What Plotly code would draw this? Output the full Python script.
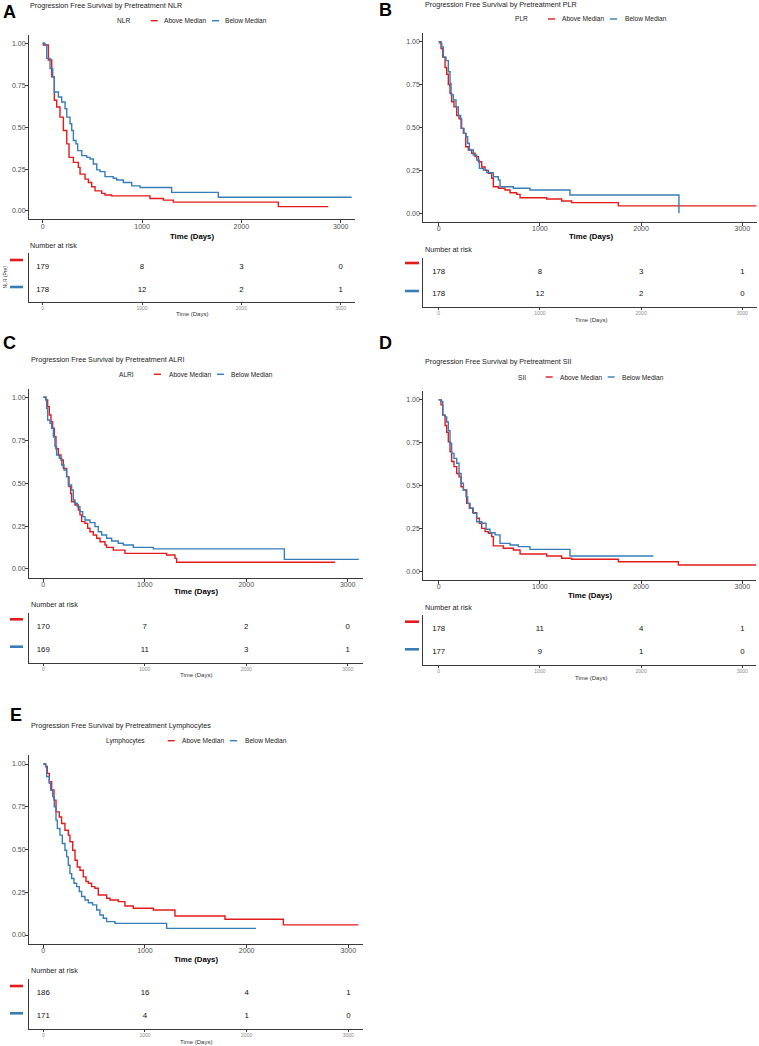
import plotly.graph_objects as go

W, H = 759, 1046
RED = "#E41A1C"
BLUE = "#377EB8"
FONT = "Liberation Sans, Arial, Helvetica, sans-serif"

# ---------------- data ----------------
group_labels = ["Above Median", "Below Median"]
risk_times = [0, 1000, 2000, 3000]
time_ticks = [0, 1000, 2000, 3000]
surv_ticks = [0.0, 0.25, 0.5, 0.75, 1.0]

nlr_above_t = [0, 7, 57, 91, 117, 141, 174, 208, 242, 265, 309, 359, 376, 426, 460, 493, 527, 594, 627, 694, 1080, 1215, 1315, 2372, 2875]
nlr_above_s = [1.0, 0.99, 0.90, 0.80, 0.66, 0.62, 0.56, 0.48, 0.40, 0.32, 0.29, 0.26, 0.22, 0.19, 0.17, 0.145, 0.12, 0.105, 0.095, 0.09, 0.075, 0.065, 0.053, 0.026, 0.026]
nlr_below_t = [0, 23, 40, 74, 101, 117, 158, 191, 225, 242, 275, 292, 309, 335, 352, 393, 443, 476, 510, 544, 577, 627, 711, 745, 812, 896, 980, 1298, 1768, 3110]
nlr_below_s = [1.0, 0.99, 0.91, 0.85, 0.80, 0.71, 0.68, 0.65, 0.61, 0.56, 0.52, 0.48, 0.42, 0.40, 0.36, 0.33, 0.32, 0.31, 0.28, 0.245, 0.235, 0.205, 0.195, 0.185, 0.17, 0.15, 0.14, 0.111, 0.082, 0.082]
nlr_risk_above = [179, 8, 3, 0]
nlr_risk_below = [178, 12, 2, 1]

plr_above_t = [0, 23, 40, 63, 79, 95, 112, 128, 151, 178, 201, 221, 244, 267, 293, 326, 359, 392, 425, 458, 491, 524, 540, 590, 655, 705, 771, 804, 1067, 1215, 1314, 1775, 3140]
plr_above_s = [1.0, 0.96, 0.91, 0.85, 0.81, 0.75, 0.70, 0.65, 0.62, 0.57, 0.55, 0.495, 0.466, 0.388, 0.369, 0.35, 0.33, 0.30, 0.27, 0.25, 0.233, 0.204, 0.155, 0.146, 0.136, 0.12, 0.11, 0.091, 0.083, 0.072, 0.062, 0.043, 0.043]
plr_below_t = [0, 13, 30, 46, 72, 95, 112, 122, 145, 171, 194, 217, 227, 250, 270, 286, 303, 342, 375, 402, 441, 474, 540, 589, 606, 738, 902, 1297, 2374]
plr_below_s = [1.0, 0.99, 0.97, 0.91, 0.89, 0.825, 0.757, 0.69, 0.66, 0.62, 0.57, 0.55, 0.495, 0.466, 0.447, 0.408, 0.369, 0.34, 0.31, 0.262, 0.252, 0.237, 0.213, 0.194, 0.155, 0.146, 0.136, 0.107, 0.0]
plr_risk_above = [178, 8, 3, 1]
plr_risk_below = [178, 12, 2, 0]

alri_above_t = [0, 26, 43, 59, 76, 92, 108, 125, 148, 174, 197, 230, 253, 269, 279, 312, 345, 361, 378, 411, 437, 460, 493, 526, 559, 608, 624, 690, 805, 1216, 1298, 1314, 2875]
alri_above_s = [1.0, 0.985, 0.946, 0.897, 0.858, 0.82, 0.77, 0.70, 0.664, 0.635, 0.586, 0.538, 0.48, 0.44, 0.392, 0.373, 0.344, 0.315, 0.276, 0.266, 0.237, 0.217, 0.198, 0.179, 0.159, 0.14, 0.126, 0.11, 0.091, 0.082, 0.062, 0.039, 0.039]
alri_below_t = [0, 23, 33, 43, 66, 82, 99, 115, 131, 158, 181, 204, 230, 246, 279, 296, 312, 335, 361, 388, 411, 460, 509, 542, 575, 624, 674, 739, 789, 887, 1084, 2376, 3110]
alri_below_s = [1.0, 0.985, 0.936, 0.868, 0.849, 0.82, 0.77, 0.713, 0.664, 0.645, 0.606, 0.577, 0.538, 0.489, 0.46, 0.402, 0.383, 0.363, 0.334, 0.305, 0.285, 0.27, 0.247, 0.217, 0.198, 0.179, 0.163, 0.15, 0.14, 0.126, 0.117, 0.056, 0.056]
alri_risk_above = [170, 7, 2, 0]
alri_risk_below = [169, 11, 3, 1]

sii_above_t = [0, 23, 40, 63, 79, 95, 112, 128, 151, 178, 201, 221, 244, 277, 303, 336, 375, 402, 425, 458, 491, 524, 540, 639, 738, 804, 1067, 1215, 1314, 1775, 2368, 3140]
sii_above_s = [1.0, 0.97, 0.91, 0.85, 0.81, 0.755, 0.697, 0.64, 0.61, 0.57, 0.55, 0.493, 0.474, 0.396, 0.367, 0.342, 0.309, 0.28, 0.25, 0.231, 0.221, 0.202, 0.148, 0.134, 0.124, 0.101, 0.089, 0.076, 0.07, 0.056, 0.037, 0.037]
sii_below_t = [0, 23, 40, 63, 79, 95, 112, 128, 151, 178, 201, 221, 244, 270, 286, 310, 342, 375, 425, 468, 507, 557, 606, 705, 787, 902, 1297, 2121]
sii_below_s = [1.0, 0.99, 0.91, 0.90, 0.87, 0.82, 0.746, 0.687, 0.658, 0.63, 0.57, 0.513, 0.474, 0.435, 0.396, 0.367, 0.338, 0.289, 0.28, 0.245, 0.225, 0.212, 0.163, 0.153, 0.144, 0.128, 0.089, 0.089]
sii_risk_above = [178, 11, 4, 1]
sii_risk_below = [177, 9, 1, 0]

lym_above_t = [0, 23, 39, 59, 82, 105, 125, 157, 180, 213, 246, 262, 289, 312, 334, 361, 393, 420, 443, 475, 508, 541, 623, 656, 738, 803, 885, 1082, 1295, 1787, 2361, 3099]
lym_above_s = [1.0, 0.985, 0.945, 0.896, 0.848, 0.789, 0.72, 0.69, 0.652, 0.613, 0.584, 0.545, 0.496, 0.4375, 0.398, 0.379, 0.34, 0.3125, 0.303, 0.283, 0.273, 0.234, 0.215, 0.205, 0.195, 0.17, 0.156, 0.146, 0.111, 0.092, 0.059, 0.059]
lym_below_t = [0, 23, 33, 59, 72, 92, 108, 125, 138, 164, 187, 213, 230, 246, 262, 279, 302, 328, 354, 377, 410, 443, 485, 525, 557, 590, 623, 705, 1213, 2092]
lym_below_s = [1.0, 0.985, 0.926, 0.887, 0.848, 0.809, 0.75, 0.672, 0.623, 0.584, 0.535, 0.496, 0.457, 0.408, 0.359, 0.33, 0.303, 0.283, 0.254, 0.225, 0.205, 0.189, 0.176, 0.146, 0.117, 0.098, 0.078, 0.068, 0.039, 0.039]
lym_risk_above = [186, 16, 4, 1]
lym_risk_below = [171, 4, 1, 0]

# ---------------- layout (pixel geometry of each panel) ----------------
panels = [
    dict(letter="A", letter_xy=(9.5, 11.5), title="Progression Free Survival by Pretreatment NLR", title_xy=(28, 6),
         var="NLR", leg_y=20.7, leg=(115, 150.7, 162, 212, 223),
         main=dict(l=29, r=355, y0=211, y1=43.3, x0=42.7, x3=340.7),
         tlab=(192, 236), nar=(28, 245.7),
         tab=dict(top=253, bot=302, r1=266.7, r2=290), key_y=(260, 287), key_x=(10, 23),
         small_t=(191.7, 314), ylab="NLR (Pre)", ylab_xy=(4.5, 277),
         above=(nlr_above_t, nlr_above_s), below=(nlr_below_t, nlr_below_s),
         risk=(nlr_risk_above, nlr_risk_below)),
    dict(letter="B", letter_xy=(385, 10), title="Progression Free Survival by Pretreatment PLR", title_xy=(423.3, 5),
         var="PLR", leg_y=19, leg=(512.7, 548, 560, 610, 622.7),
         main=dict(l=423.3, r=756.7, y0=213.3, y1=41.7, x0=438.7, x3=742.3),
         tlab=(590.7, 236), nar=(423, 249),
         tab=dict(top=257.7, bot=307, r1=271.7, r2=294), key_y=(263, 291), key_x=(405, 419),
         small_t=(590.7, 320), ylab=None, ylab_xy=None,
         above=(plr_above_t, plr_above_s), below=(plr_below_t, plr_below_s),
         risk=(plr_risk_above, plr_risk_below)),
    dict(letter="C", letter_xy=(9.5, 343), title="Progression Free Survival by Pretreatment ALRI", title_xy=(28.7, 359),
         var="ALRI", leg_y=374.3, leg=(117, 154, 167, 217, 229),
         main=dict(l=29, r=363, y0=569, y1=397.3, x0=43.3, x3=347.7),
         tlab=(195.8, 591.7), nar=(28.7, 604.3),
         tab=dict(top=613, bot=662.7, r1=626.7, r2=650), key_y=(619.3, 646.7), key_x=(10, 23),
         small_t=(196.3, 675), ylab=None, ylab_xy=None,
         above=(alri_above_t, alri_above_s), below=(alri_below_t, alri_below_s),
         risk=(alri_risk_above, alri_risk_below)),
    dict(letter="D", letter_xy=(385, 343), title="Progression Free Survival by Pretreatment SII", title_xy=(423.3, 361.7),
         var="SII", leg_y=377, leg=(516, 545.7, 557.7, 607.7, 620),
         main=dict(l=423.3, r=756, y0=571.3, y1=399.7, x0=438.7, x3=742.3),
         tlab=(590.3, 595), nar=(423.3, 607.3),
         tab=dict(top=615, bot=665, r1=629, r2=652), key_y=(621.7, 649.3), key_x=(405, 419),
         small_t=(590.7, 677.7), ylab=None, ylab_xy=None,
         above=(sii_above_t, sii_above_s), below=(sii_below_t, sii_below_s),
         risk=(sii_risk_above, sii_risk_below)),
    dict(letter="E", letter_xy=(16, 714.5), title="Progression Free Survival by Pretreatment Lymphocytes", title_xy=(28.7, 725.3),
         var="Lymphocytes", leg_y=740.7, leg=(104, 167.7, 180, 230, 242.7),
         main=dict(l=29, r=363, y0=935, y1=764, x0=43.3, x3=348.3),
         tlab=(196, 959), nar=(28.7, 970.7),
         tab=dict(top=979, bot=1029, r1=993.3, r2=1016), key_y=(986, 1013.3), key_x=(10, 23),
         small_t=(196, 1041.7), ylab=None, ylab_xy=None,
         above=(lym_above_t, lym_above_s), below=(lym_below_t, lym_below_s),
         risk=(lym_risk_above, lym_risk_below)),
]


def fx(p):
    return p / W


def fy(p):
    return 1 - p / H


def lin_range(p_lo, p_hi, pa, va, pb, vb):
    s = (vb - va) / (pb - pa)
    return [va + (p_lo - pa) * s, va + (p_hi - pa) * s]


fig = go.Figure()
layout = {}
annotations = []
shapes = []

AXCOL = "#3a3a3a"
TICKCOL = "#4d4d4d"

for i, P in enumerate(panels):
    mi, ti = 2 * i + 1, 2 * i + 2
    mx = "x" if mi == 1 else f"x{mi}"
    my = "y" if mi == 1 else f"y{mi}"
    tx, ty = f"x{ti}", f"y{ti}"
    M = P["main"]
    span = M["y0"] - M["y1"]
    top_px = M["y1"] - 0.05 * span
    bot_px = M["y0"] + 0.05 * span
    xr = lin_range(M["l"], M["r"], M["x0"], 0, M["x3"], 3000)

    # --- survival curves ---
    for (t, s), col, name in ((P["above"], RED, group_labels[0]), (P["below"], BLUE, group_labels[1])):
        fig.add_trace(go.Scatter(x=t, y=s, mode="lines", line=dict(color=col, width=1.4, shape="hv"),
                                 name=name, showlegend=False, xaxis=mx, yaxis=my, hoverinfo="skip"))

    layout["xaxis" if mi == 1 else f"xaxis{mi}"] = dict(
        domain=[fx(M["l"]), fx(M["r"])], range=xr, anchor=my,
        showline=True, linecolor=AXCOL, linewidth=1, ticks="outside", ticklen=3, tickcolor=AXCOL,
        tickvals=time_ticks, tickfont=dict(size=7, color=TICKCOL, family=FONT), ticklabelstandoff=-3,
        showgrid=False, zeroline=False, fixedrange=True)
    layout["yaxis" if mi == 1 else f"yaxis{mi}"] = dict(
        domain=[fy(bot_px), fy(top_px)], range=[-0.05, 1.05], anchor=mx,
        showline=True, linecolor=AXCOL, linewidth=1, ticks="outside", ticklen=3, tickcolor=AXCOL,
        tickvals=surv_ticks, tickformat=".2f", tickfont=dict(size=7, color=TICKCOL, family=FONT),
        ticklabelstandoff=-2,
        showgrid=False, zeroline=False, fixedrange=True)

    # --- risk table ---
    T = P["tab"]
    yr = lin_range(T["bot"], T["top"], T["r2"], 1, T["r1"], 2)
    for vals, yv in ((P["risk"][0], 2), (P["risk"][1], 1)):
        fig.add_trace(go.Scatter(x=risk_times, y=[yv] * len(vals), mode="text", text=[str(v) for v in vals],
                                 textfont=dict(size=7.8, color="#111111", family=FONT), textposition="middle center",
                                 showlegend=False, xaxis=tx, yaxis=ty, hoverinfo="skip", cliponaxis=False))
    layout[f"xaxis{ti}"] = dict(
        domain=[fx(M["l"]), fx(M["r"])], range=xr, anchor=ty,
        showline=True, linecolor=AXCOL, linewidth=1, ticks="outside", ticklen=2, tickcolor=AXCOL,
        tickvals=time_ticks, tickfont=dict(size=5, color="#8a8a8a", family=FONT), ticklabelstandoff=-1,
        showgrid=False, zeroline=False, fixedrange=True)
    layout[f"yaxis{ti}"] = dict(
        domain=[fy(T["bot"]), fy(T["top"])], range=yr, anchor=tx,
        showline=True, linecolor=AXCOL, linewidth=1, ticks="", showticklabels=False,
        showgrid=False, zeroline=False, fixedrange=True)

    # colour keys of the table rows
    for ky, col in zip(P["key_y"], (RED, BLUE)):
        shapes.append(dict(type="line", xref="paper", yref="paper", x0=fx(P["key_x"][0]), x1=fx(P["key_x"][1]),
                           y0=fy(ky), y1=fy(ky), line=dict(color=col, width=2.6)))

    # panel letter
    annotations.append(dict(text=f"<b>{P['letter']}</b>", x=fx(P["letter_xy"][0]), y=fy(P["letter_xy"][1]),
                            xref="paper", yref="paper", xanchor="center", yanchor="middle", showarrow=False,
                            font=dict(size=18, color="#000000", family=FONT)))
    # title
    annotations.append(dict(text=P["title"], x=fx(P["title_xy"][0]), y=fy(P["title_xy"][1]),
                            xref="paper", yref="paper", xanchor="left", yanchor="middle", showarrow=False,
                            font=dict(size=7.2, color="#222222", family=FONT)))
    # legend
    lv, lr, lat, lb, lbt = P["leg"]
    ly = P["leg_y"]
    annotations.append(dict(text=P["var"], x=fx(lv), y=fy(ly), xref="paper", yref="paper", xanchor="left",
                            yanchor="middle", showarrow=False, font=dict(size=6.6, color="#222222", family=FONT)))
    annotations.append(dict(text=group_labels[0], x=fx(lat), y=fy(ly), xref="paper", yref="paper", xanchor="left",
                            yanchor="middle", showarrow=False, font=dict(size=6.6, color="#222222", family=FONT)))
    annotations.append(dict(text=group_labels[1], x=fx(lbt), y=fy(ly), xref="paper", yref="paper", xanchor="left",
                            yanchor="middle", showarrow=False, font=dict(size=6.6, color="#222222", family=FONT)))
    shapes.append(dict(type="line", xref="paper", yref="paper", x0=fx(lr), x1=fx(lr + 7), y0=fy(ly), y1=fy(ly),
                       line=dict(color=RED, width=1.4)))
    shapes.append(dict(type="line", xref="paper", yref="paper", x0=fx(lb), x1=fx(lb + 7), y0=fy(ly), y1=fy(ly),
                       line=dict(color=BLUE, width=1.4)))
    # axis title (bold) of the survival plot
    annotations.append(dict(text="<b>Time (Days)</b>", x=fx(P["tlab"][0]), y=fy(P["tlab"][1]), xref="paper",
                            yref="paper", xanchor="center", yanchor="middle", showarrow=False,
                            font=dict(size=7.8, color="#000000", family=FONT)))
    # number at risk
    annotations.append(dict(text="Number at risk", x=fx(P["nar"][0]), y=fy(P["nar"][1]), xref="paper",
                            yref="paper", xanchor="left", yanchor="middle", showarrow=False,
                            font=dict(size=7.2, color="#222222", family=FONT)))
    # small table axis title
    annotations.append(dict(text="Time (Days)", x=fx(P["small_t"][0]), y=fy(P["small_t"][1]), xref="paper",
                            yref="paper", xanchor="center", yanchor="middle", showarrow=False,
                            font=dict(size=6, color="#333333", family=FONT)))
    if P["ylab"]:
        annotations.append(dict(text=P["ylab"], x=fx(P["ylab_xy"][0]), y=fy(P["ylab_xy"][1]), xref="paper",
                                yref="paper", xanchor="center", yanchor="middle", showarrow=False, textangle=-90,
                                font=dict(size=5, color="#333333", family=FONT)))

fig.update_layout(
    width=W, height=H, margin=dict(l=0, r=0, t=0, b=0),
    paper_bgcolor="white", plot_bgcolor="white", showlegend=False,
    annotations=annotations, shapes=shapes, font=dict(family=FONT), **layout)

fig.write_html("out.html", config={"displayModeBar": False},
               post_script="document.body.style.margin='0px';")
